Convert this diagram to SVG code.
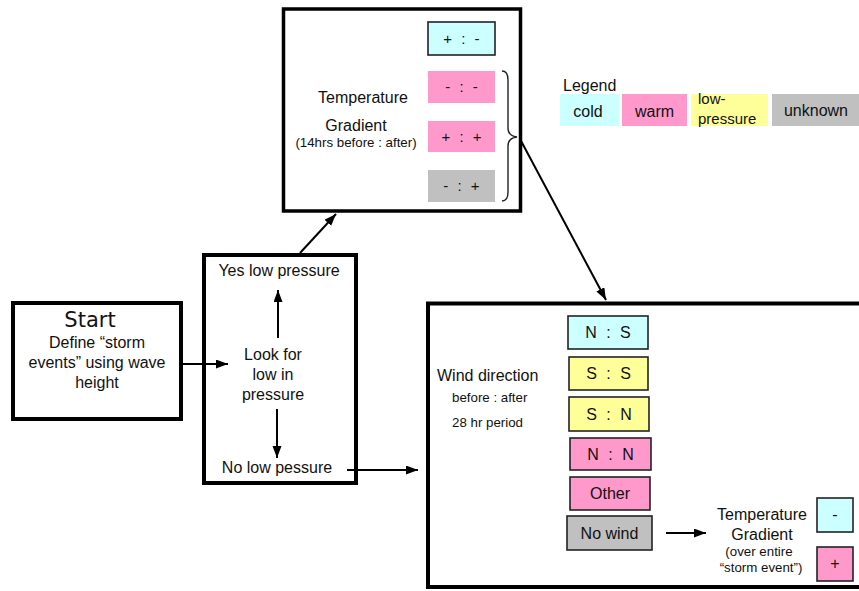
<svg xmlns="http://www.w3.org/2000/svg" width="859" height="591" viewBox="0 0 859 591">
  <defs>
    <marker id="arrow" markerUnits="userSpaceOnUse" markerWidth="13" markerHeight="10" refX="12" refY="4.5" orient="auto">
      <path d="M0,0 L12,4.5 L0,9 z" fill="#000"/>
    </marker>
    <style>
      text { font-family: "Liberation Sans", Arial, sans-serif; fill: #111; }
      .big { font-size: 16px; }
      .small { font-size: 13.3px; }
      .mid { text-anchor: middle; }
      .frame { fill: #fff; stroke: #000; stroke-width: 4; }
      .cell { stroke: #222; stroke-width: 1.6; }
      .cold { fill: #ccffff; }
      .warm { fill: #ff99cc; }
      .lowp { fill: #ffff99; }
      .unk { fill: #c0c0c0; }
      .sym { font-size: 15px; word-spacing: 5px; text-anchor: middle; }
      .conn { stroke: #000; stroke-width: 2; fill: none; marker-end: url(#arrow); }
    </style>
  </defs>

  <rect width="859" height="591" fill="#fff"/>

  <!-- Start node -->
  <g id="start">
    <rect class="frame" x="13" y="303" width="168" height="116"/>
    <text x="90" y="327" text-anchor="middle" style="font-family:'DejaVu Sans',sans-serif;font-size:21px">Start</text>
    <text class="big mid" x="97" y="348">Define “storm</text>
    <text class="big mid" x="97" y="368">events” using wave</text>
    <text class="big mid" x="97" y="388">height</text>
  </g>

  <!-- Pressure check node -->
  <g id="pressure">
    <rect class="frame" x="204" y="255" width="152" height="228"/>
    <text class="big mid" x="279" y="276">Yes low pressure</text>
    <text class="big mid" x="273" y="360">Look for</text>
    <text class="big mid" x="273" y="380">low in</text>
    <text class="big mid" x="273" y="400">pressure</text>
    <text class="big mid" x="277" y="473">No low pessure</text>
  </g>

  <!-- Temperature gradient node (low pressure branch) -->
  <g id="temp-gradient">
    <rect class="frame" x="283.5" y="9" width="237" height="202" style="stroke-width:3.5"/>
    <text class="big mid" x="363" y="103">Temperature</text>
    <text class="big mid" x="356" y="131">Gradient</text>
    <text class="small mid" x="356" y="147">(14hrs before : after)</text>
    <rect class="cell cold" x="428" y="22" width="67" height="33"/>
    <text class="sym" x="461.5" y="44">+ : -</text>
    <rect class="warm" x="428" y="71" width="67" height="32"/>
    <text class="sym" x="461.5" y="92">- : -</text>
    <rect class="warm" x="428" y="121" width="67" height="31"/>
    <text class="sym" x="461.5" y="142">+ : +</text>
    <rect class="unk" x="428" y="170" width="67" height="32"/>
    <text class="sym" x="461.5" y="191">- : +</text>
    <path d="M502,71 Q508,71 508,80 L508,128 Q508,136 517,137 Q508,138 508,146 L508,192 Q508,201 502,201" fill="none" stroke="#222" stroke-width="1.4"/>
  </g>

  <!-- Legend -->
  <g id="legend">
    <text class="big" x="563" y="91">Legend</text>
    <rect class="cold" x="560" y="94" width="59" height="32"/>
    <text class="big mid" x="588" y="117">cold</text>
    <rect class="warm" x="622" y="94" width="65" height="32"/>
    <text class="big mid" x="654.5" y="117">warm</text>
    <rect class="lowp" x="691" y="94" width="77" height="32"/>
    <text x="698" y="104" style="font-size:15px">low-</text>
    <text x="698" y="124" style="font-size:15px">pressure</text>
    <rect class="unk" x="772" y="94" width="87" height="32"/>
    <text class="big mid" x="816" y="116">unknown</text>
  </g>

  <!-- Wind direction node (no low pressure branch) -->
  <g id="wind-direction">
    <rect class="frame" x="428" y="303.5" width="440" height="283.5"/>
    <text class="big" x="437" y="381">Wind direction</text>
    <text class="small" x="452" y="402">before : after</text>
    <text class="small" x="452" y="427">28 hr period</text>

    <rect class="cell cold" x="568" y="316" width="80" height="33"/>
    <text class="sym" x="608" y="338" style="font-size:16px">N : S</text>
    <rect class="cell lowp" x="569" y="357" width="79" height="33"/>
    <text class="sym" x="608.5" y="379" style="font-size:16px">S : S</text>
    <rect class="cell lowp" x="569" y="397" width="80" height="34"/>
    <text class="sym" x="609" y="420" style="font-size:16px">S : N</text>
    <rect class="cell warm" x="570" y="438" width="81" height="32"/>
    <text class="sym" x="610.5" y="460" style="font-size:16px">N : N</text>
    <rect class="cell warm" x="570" y="477" width="80" height="33"/>
    <text class="big mid" x="610" y="499">Other</text>
    <rect class="cell unk" x="567" y="516" width="85" height="34"/>
    <text class="big mid" x="609.5" y="539">No wind</text>

    <text class="big mid" x="762" y="520">Temperature</text>
    <text class="big mid" x="762" y="540">Gradient</text>
    <text class="small mid" x="759" y="556">(over entire</text>
    <text class="small mid" x="761" y="572">“storm event”)</text>
    <rect class="cell cold" x="817" y="498" width="36" height="34"/>
    <text class="big mid" x="835" y="520">-</text>
    <rect class="cell warm" x="817" y="547" width="36" height="34"/>
    <text class="big mid" x="835" y="569">+</text>
  </g>

  <!-- Connectors -->
  <g id="connectors">
    <path class="conn" d="M182,364 L228,364"/>
    <path class="conn" d="M278,338 L278,290"/>
    <path class="conn" d="M277,409 L277,458"/>
    <path class="conn" d="M300,253 L336,214"/>
    <path class="conn" d="M347,470 L418,470"/>
    <path class="conn" d="M520,139 L606,300"/>
    <path class="conn" d="M666,533 L706,533"/>
  </g>
</svg>
